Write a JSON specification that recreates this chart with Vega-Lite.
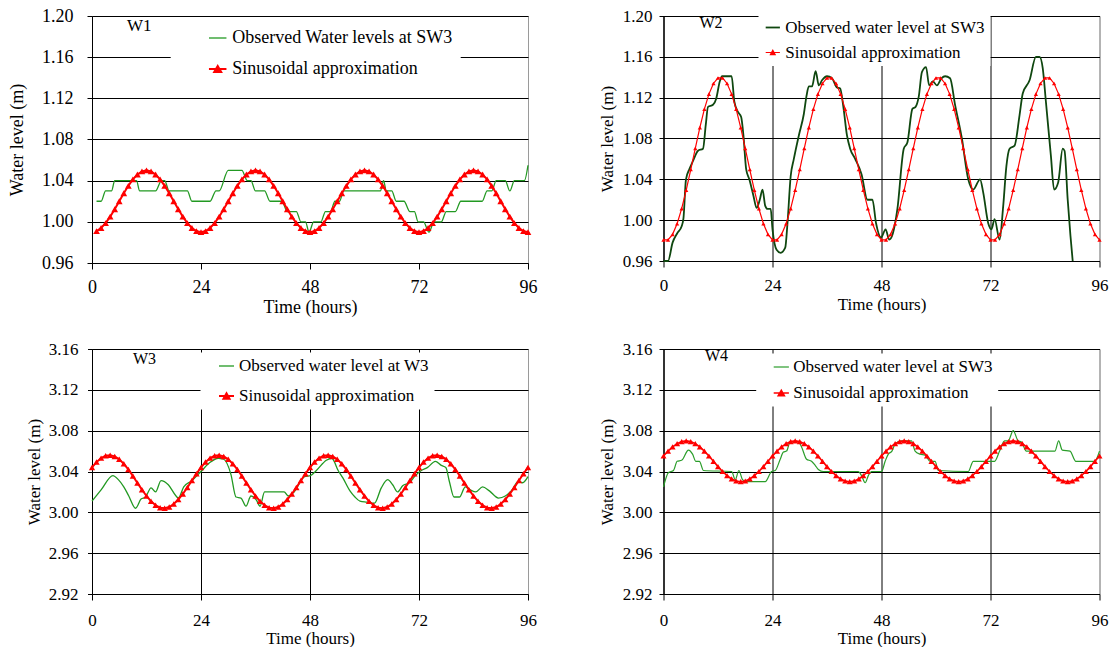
{
"$schema": "https://vega.github.io/schema/vega-lite/v6.json",
"padding": {"left": 8, "top": 6, "right": 0, "bottom": 0},
"background": "white",
"columns": 2,
"spacing": {"row": 86, "column": 135.5},
"bounds": "flush",
"resolve": {"scale": {"color": "independent", "x": "independent", "y": "independent"}, "legend": {"color": "independent"}},
"config": {
 "font": "Liberation Serif",
 "view": {"stroke": "#9a9a9a", "strokeWidth": 1},
 "axis": {"labelColor": "#000", "titleColor": "#000", "titleFontWeight": "normal", "domainColor": "#000", "tickColor": "#000", "gridColor": "#000", "gridOpacity": 1, "labelFont": "Liberation Serif", "titleFont": "Liberation Serif", "labelFlush": false, "labelOverlap": false},
 "legend": {"labelFont": "Liberation Serif", "labelColor": "#000"},
 "title": {"font": "Liberation Serif", "fontWeight": "normal", "color": "#000"}
},
"datasets": {
 "w1o": [{"t":1,"v":1.02},{"t":2,"v":1.02},{"t":3,"v":1.03},{"t":4.3,"v":1.03},{"t":5,"v":1.04},{"t":9.8,"v":1.04},{"t":10.5,"v":1.03},{"t":14,"v":1.03},{"t":15.3,"v":1.04},{"t":16,"v":1.04},{"t":17,"v":1.03},{"t":21,"v":1.03},{"t":22,"v":1.02},{"t":26,"v":1.02},{"t":27.3,"v":1.03},{"t":28,"v":1.03},{"t":30,"v":1.05},{"t":33,"v":1.05},{"t":34.2,"v":1.04},{"t":35,"v":1.04},{"t":36,"v":1.03},{"t":38,"v":1.03},{"t":39.2,"v":1.02},{"t":41.8,"v":1.02},{"t":43,"v":1.01},{"t":45,"v":1.01},{"t":46,"v":1.0},{"t":47,"v":1.0},{"t":47.8,"v":0.99},{"t":48.8,"v":1.0},{"t":50.4,"v":1.0},{"t":51.4,"v":1.01},{"t":52.5,"v":1.01},{"t":53.5,"v":1.02},{"t":54.5,"v":1.02},{"t":55.4,"v":1.03},{"t":63.5,"v":1.03},{"t":64.2,"v":1.04},{"t":64.8,"v":1.03},{"t":66,"v":1.03},{"t":67,"v":1.02},{"t":68.7,"v":1.02},{"t":70,"v":1.01},{"t":71,"v":1.01},{"t":71.8,"v":1.0},{"t":73,"v":1.0},{"t":74.2,"v":0.99},{"t":75.3,"v":1.0},{"t":76.9,"v":1.0},{"t":78,"v":1.01},{"t":80,"v":1.01},{"t":81.2,"v":1.02},{"t":85.9,"v":1.02},{"t":87,"v":1.03},{"t":88,"v":1.03},{"t":89,"v":1.04},{"t":91,"v":1.04},{"t":92,"v":1.03},{"t":93,"v":1.04},{"t":95.2,"v":1.04},{"t":96,"v":1.055}],
 "w1s": [{"t":1,"v":0.991},{"t":2,"v":0.994},{"t":3,"v":0.9988},{"t":4,"v":1.005},{"t":5,"v":1.0122},{"t":6,"v":1.02},{"t":7,"v":1.0278},{"t":8,"v":1.035},{"t":9,"v":1.0412},{"t":10,"v":1.046},{"t":11,"v":1.049},{"t":12,"v":1.05},{"t":13,"v":1.049},{"t":14,"v":1.046},{"t":15,"v":1.0412},{"t":16,"v":1.035},{"t":17,"v":1.0278},{"t":18,"v":1.02},{"t":19,"v":1.0122},{"t":20,"v":1.005},{"t":21,"v":0.9988},{"t":22,"v":0.994},{"t":23,"v":0.991},{"t":24,"v":0.99},
  {"t":25,"v":0.991},{"t":26,"v":0.994},{"t":27,"v":0.9988},{"t":28,"v":1.005},{"t":29,"v":1.0122},{"t":30,"v":1.02},{"t":31,"v":1.0278},{"t":32,"v":1.035},{"t":33,"v":1.0412},{"t":34,"v":1.046},{"t":35,"v":1.049},{"t":36,"v":1.05},{"t":37,"v":1.049},{"t":38,"v":1.046},{"t":39,"v":1.0412},{"t":40,"v":1.035},{"t":41,"v":1.0278},{"t":42,"v":1.02},{"t":43,"v":1.0122},{"t":44,"v":1.005},{"t":45,"v":0.9988},{"t":46,"v":0.994},{"t":47,"v":0.991},{"t":48,"v":0.99},
  {"t":49,"v":0.991},{"t":50,"v":0.994},{"t":51,"v":0.9988},{"t":52,"v":1.005},{"t":53,"v":1.0122},{"t":54,"v":1.02},{"t":55,"v":1.0278},{"t":56,"v":1.035},{"t":57,"v":1.0412},{"t":58,"v":1.046},{"t":59,"v":1.049},{"t":60,"v":1.05},{"t":61,"v":1.049},{"t":62,"v":1.046},{"t":63,"v":1.0412},{"t":64,"v":1.035},{"t":65,"v":1.0278},{"t":66,"v":1.02},{"t":67,"v":1.0122},{"t":68,"v":1.005},{"t":69,"v":0.9988},{"t":70,"v":0.994},{"t":71,"v":0.991},{"t":72,"v":0.99},
  {"t":73,"v":0.991},{"t":74,"v":0.994},{"t":75,"v":0.9988},{"t":76,"v":1.005},{"t":77,"v":1.0122},{"t":78,"v":1.02},{"t":79,"v":1.0278},{"t":80,"v":1.035},{"t":81,"v":1.0412},{"t":82,"v":1.046},{"t":83,"v":1.049},{"t":84,"v":1.05},{"t":85,"v":1.049},{"t":86,"v":1.046},{"t":87,"v":1.0412},{"t":88,"v":1.035},{"t":89,"v":1.0278},{"t":90,"v":1.02},{"t":91,"v":1.0122},{"t":92,"v":1.005},{"t":93,"v":0.9988},{"t":94,"v":0.994},{"t":95,"v":0.991},{"t":96,"v":0.99}],
 "w2o": [{"t":0,"v":0.96},{"t":1,"v":0.96},{"t":2,"v":0.978},{"t":3,"v":0.987},{"t":4,"v":0.994},{"t":4.4,"v":1.002},{"t":4.95,"v":1.04},{"t":5.7,"v":1.05},{"t":6.5,"v":1.058},{"t":7.6,"v":1.068},{"t":8.7,"v":1.07},{"t":9.3,"v":1.093},{"t":9.8,"v":1.111},{"t":10.9,"v":1.113},{"t":11.6,"v":1.119},{"t":12.4,"v":1.136},{"t":12.9,"v":1.141},{"t":15,"v":1.141},{"t":15.6,"v":1.116},{"t":16.4,"v":1.106},{"t":17.1,"v":1.101},{"t":17.6,"v":1.083},{"t":18.2,"v":1.05},{"t":18.9,"v":1.04},{"t":19.8,"v":1.024},{"t":20.5,"v":1.012},{"t":21.2,"v":1.02},{"t":21.8,"v":1.03},{"t":22.4,"v":1.014},{"t":22.9,"v":1.011},{"t":23.6,"v":1.011},{"t":24,"v":0.991},{"t":24.9,"v":0.971},{"t":25.8,"v":0.968},{"t":26.8,"v":0.973},{"t":27.3,"v":0.997},{"t":28,"v":1.043},{"t":28.7,"v":1.06},{"t":29.8,"v":1.083},{"t":30.9,"v":1.104},{"t":31.5,"v":1.122},{"t":32,"v":1.131},{"t":32.7,"v":1.131},{"t":33.5,"v":1.146},{"t":34.2,"v":1.132},{"t":34.9,"v":1.137},{"t":36,"v":1.141},{"t":37.1,"v":1.139},{"t":38.2,"v":1.13},{"t":38.9,"v":1.129},{"t":39.6,"v":1.111},{"t":40.4,"v":1.083},{"t":41.1,"v":1.07},{"t":42.2,"v":1.06},{"t":43.6,"v":1.045},{"t":44.9,"v":1.02},{"t":46,"v":1.02},{"t":46.8,"v":0.997},{"t":47.9,"v":0.983},{"t":48.9,"v":0.991},{"t":49.7,"v":0.981},{"t":50.5,"v":0.987},{"t":51.5,"v":1.011},{"t":52.9,"v":1.07},{"t":53.7,"v":1.076},{"t":54.8,"v":1.109},{"t":55.5,"v":1.111},{"t":56.2,"v":1.121},{"t":56.9,"v":1.145},{"t":57.8,"v":1.15},{"t":58.5,"v":1.132},{"t":59.3,"v":1.136},{"t":60.2,"v":1.132},{"t":61.2,"v":1.139},{"t":62,"v":1.141},{"t":63.1,"v":1.139},{"t":64.2,"v":1.113},{"t":65.7,"v":1.08},{"t":67.1,"v":1.04},{"t":68.2,"v":1.03},{"t":69.7,"v":1.04},{"t":70.4,"v":1.027},{"t":71.5,"v":0.997},{"t":72.2,"v":0.991},{"t":72.9,"v":1.001},{"t":74,"v":0.981},{"t":74.8,"v":1.014},{"t":75.5,"v":1.053},{"t":76.2,"v":1.07},{"t":77.3,"v":1.073},{"t":78.4,"v":1.103},{"t":79.1,"v":1.124},{"t":80.6,"v":1.137},{"t":82,"v":1.16},{"t":82.8,"v":1.16},{"t":83.5,"v":1.149},{"t":84.2,"v":1.116},{"t":85.3,"v":1.063},{"t":86,"v":1.03},{"t":86.9,"v":1.037},{"t":87.9,"v":1.07},{"t":88.3,"v":1.068},{"t":89,"v":1.02},{"t":89.6,"v":0.985},{"t":90.1,"v":0.96}],
 "w2s": [{"t":0,"v":0.9807},{"t":1,"v":0.9807},{"t":2,"v":0.9861},{"t":3,"v":0.9965},{"t":4,"v":1.0113},{"t":5,"v":1.0294},{"t":6,"v":1.0496},{"t":7,"v":1.0704},{"t":8,"v":1.0906},{"t":9,"v":1.1087},{"t":10,"v":1.1235},{"t":11,"v":1.1339},{"t":12,"v":1.1393},{"t":13,"v":1.1393},{"t":14,"v":1.1339},{"t":15,"v":1.1235},{"t":16,"v":1.1087},{"t":17,"v":1.0906},{"t":18,"v":1.0704},{"t":19,"v":1.0496},{"t":20,"v":1.0294},{"t":21,"v":1.0113},{"t":22,"v":0.9965},{"t":23,"v":0.9861},
  {"t":24,"v":0.9807},{"t":25,"v":0.9807},{"t":26,"v":0.9861},{"t":27,"v":0.9965},{"t":28,"v":1.0113},{"t":29,"v":1.0294},{"t":30,"v":1.0496},{"t":31,"v":1.0704},{"t":32,"v":1.0906},{"t":33,"v":1.1087},{"t":34,"v":1.1235},{"t":35,"v":1.1339},{"t":36,"v":1.1393},{"t":37,"v":1.1393},{"t":38,"v":1.1339},{"t":39,"v":1.1235},{"t":40,"v":1.1087},{"t":41,"v":1.0906},{"t":42,"v":1.0704},{"t":43,"v":1.0496},{"t":44,"v":1.0294},{"t":45,"v":1.0113},{"t":46,"v":0.9965},{"t":47,"v":0.9861},
  {"t":48,"v":0.9807},{"t":49,"v":0.9807},{"t":50,"v":0.9861},{"t":51,"v":0.9965},{"t":52,"v":1.0113},{"t":53,"v":1.0294},{"t":54,"v":1.0496},{"t":55,"v":1.0704},{"t":56,"v":1.0906},{"t":57,"v":1.1087},{"t":58,"v":1.1235},{"t":59,"v":1.1339},{"t":60,"v":1.1393},{"t":61,"v":1.1393},{"t":62,"v":1.1339},{"t":63,"v":1.1235},{"t":64,"v":1.1087},{"t":65,"v":1.0906},{"t":66,"v":1.0704},{"t":67,"v":1.0496},{"t":68,"v":1.0294},{"t":69,"v":1.0113},{"t":70,"v":0.9965},{"t":71,"v":0.9861},
  {"t":72,"v":0.9807},{"t":73,"v":0.9807},{"t":74,"v":0.9861},{"t":75,"v":0.9965},{"t":76,"v":1.0113},{"t":77,"v":1.0294},{"t":78,"v":1.0496},{"t":79,"v":1.0704},{"t":80,"v":1.0906},{"t":81,"v":1.1087},{"t":82,"v":1.1235},{"t":83,"v":1.1339},{"t":84,"v":1.1393},{"t":85,"v":1.1393},{"t":86,"v":1.1339},{"t":87,"v":1.1235},{"t":88,"v":1.1087},{"t":89,"v":1.0906},{"t":90,"v":1.0704},{"t":91,"v":1.0496},{"t":92,"v":1.0294},{"t":93,"v":1.0113},{"t":94,"v":0.9965},{"t":95,"v":0.9861},{"t":96,"v":0.9807}],
 "w3o": [{"t":0,"v":3.011},{"t":2,"v":3.022},{"t":4.6,"v":3.036},{"t":5.8,"v":3.032},{"t":7,"v":3.025},{"t":8.1,"v":3.016},{"t":9.6,"v":3.004},{"t":10.8,"v":3.013},{"t":11.8,"v":3.015},{"t":13,"v":3.024},{"t":14,"v":3.02},{"t":15.2,"v":3.031},{"t":16.8,"v":3.027},{"t":18.5,"v":3.016},{"t":19,"v":3.014},{"t":20.2,"v":3.025},{"t":22,"v":3.031},{"t":24,"v":3.04},{"t":26,"v":3.049},{"t":27.8,"v":3.053},{"t":29,"v":3.052},{"t":30.6,"v":3.037},{"t":31.7,"v":3.015},{"t":32.8,"v":3.014},{"t":33.9,"v":3.006},{"t":35,"v":3.016},{"t":36.2,"v":3.012},{"t":37,"v":3.006},{"t":38,"v":3.02},{"t":42.3,"v":3.02},{"t":43.2,"v":3.016},{"t":44.5,"v":3.02},{"t":46.8,"v":3.035},{"t":48.1,"v":3.036},{"t":49.4,"v":3.041},{"t":51.6,"v":3.051},{"t":52.8,"v":3.053},{"t":54.2,"v":3.041},{"t":55.2,"v":3.034},{"t":56.8,"v":3.021},{"t":57.9,"v":3.015},{"t":59,"v":3.011},{"t":60.5,"v":3.01},{"t":62.2,"v":3.009},{"t":63.7,"v":3.024},{"t":65.1,"v":3.032},{"t":66.2,"v":3.027},{"t":67.3,"v":3.02},{"t":68.4,"v":3.026},{"t":69.9,"v":3.029},{"t":71.2,"v":3.036},{"t":72.5,"v":3.041},{"t":73.9,"v":3.044},{"t":75.6,"v":3.05},{"t":76.9,"v":3.046},{"t":77.9,"v":3.044},{"t":78.7,"v":3.03},{"t":79.7,"v":3.015},{"t":80.9,"v":3.015},{"t":82.2,"v":3.025},{"t":83.3,"v":3.022},{"t":84.5,"v":3.02},{"t":86,"v":3.025},{"t":87.5,"v":3.021},{"t":89.5,"v":3.014},{"t":91,"v":3.016},{"t":92.5,"v":3.022},{"t":93.8,"v":3.03},{"t":94.8,"v":3.029},{"t":96,"v":3.035}],
 "w3s": [{"t":0,"v":3.044},{"t":1,"v":3.0492},{"t":2,"v":3.0531},{"t":3,"v":3.0554},{"t":4,"v":3.056},{"t":5,"v":3.0548},{"t":6,"v":3.0519},{"t":7,"v":3.0475},{"t":8,"v":3.042},{"t":9,"v":3.0356},{"t":10,"v":3.0288},{"t":11,"v":3.0222},{"t":12,"v":3.016},{"t":13,"v":3.0108},{"t":14,"v":3.0069},{"t":15,"v":3.0046},{"t":16,"v":3.004},{"t":17,"v":3.0052},{"t":18,"v":3.0081},{"t":19,"v":3.0125},{"t":20,"v":3.018},{"t":21,"v":3.0244},{"t":22,"v":3.0312},{"t":23,"v":3.0378},
  {"t":24,"v":3.044},{"t":25,"v":3.0492},{"t":26,"v":3.0531},{"t":27,"v":3.0554},{"t":28,"v":3.056},{"t":29,"v":3.0548},{"t":30,"v":3.0519},{"t":31,"v":3.0475},{"t":32,"v":3.042},{"t":33,"v":3.0356},{"t":34,"v":3.0288},{"t":35,"v":3.0222},{"t":36,"v":3.016},{"t":37,"v":3.0108},{"t":38,"v":3.0069},{"t":39,"v":3.0046},{"t":40,"v":3.004},{"t":41,"v":3.0052},{"t":42,"v":3.0081},{"t":43,"v":3.0125},{"t":44,"v":3.018},{"t":45,"v":3.0244},{"t":46,"v":3.0312},{"t":47,"v":3.0378},
  {"t":48,"v":3.044},{"t":49,"v":3.0492},{"t":50,"v":3.0531},{"t":51,"v":3.0554},{"t":52,"v":3.056},{"t":53,"v":3.0548},{"t":54,"v":3.0519},{"t":55,"v":3.0475},{"t":56,"v":3.042},{"t":57,"v":3.0356},{"t":58,"v":3.0288},{"t":59,"v":3.0222},{"t":60,"v":3.016},{"t":61,"v":3.0108},{"t":62,"v":3.0069},{"t":63,"v":3.0046},{"t":64,"v":3.004},{"t":65,"v":3.0052},{"t":66,"v":3.0081},{"t":67,"v":3.0125},{"t":68,"v":3.018},{"t":69,"v":3.0244},{"t":70,"v":3.0312},{"t":71,"v":3.0378},
  {"t":72,"v":3.044},{"t":73,"v":3.0492},{"t":74,"v":3.0531},{"t":75,"v":3.0554},{"t":76,"v":3.056},{"t":77,"v":3.0548},{"t":78,"v":3.0519},{"t":79,"v":3.0475},{"t":80,"v":3.042},{"t":81,"v":3.0356},{"t":82,"v":3.0288},{"t":83,"v":3.0222},{"t":84,"v":3.016},{"t":85,"v":3.0108},{"t":86,"v":3.0069},{"t":87,"v":3.0046},{"t":88,"v":3.004},{"t":89,"v":3.0052},{"t":90,"v":3.0081},{"t":91,"v":3.0125},{"t":92,"v":3.018},{"t":93,"v":3.0244},{"t":94,"v":3.0312},{"t":95,"v":3.0378},{"t":96,"v":3.044}],
 "w4o": [{"t":0,"v":3.025},{"t":1.1,"v":3.039},{"t":2.2,"v":3.041},{"t":3,"v":3.05},{"t":4,"v":3.051},{"t":5.5,"v":3.061},{"t":6.4,"v":3.057},{"t":7.1,"v":3.05},{"t":7.9,"v":3.05},{"t":8.8,"v":3.041},{"t":15,"v":3.04},{"t":15.8,"v":3.032},{"t":16.6,"v":3.041},{"t":17.4,"v":3.032},{"t":18.3,"v":3.03},{"t":22.4,"v":3.03},{"t":23.8,"v":3.04},{"t":24.6,"v":3.041},{"t":25.7,"v":3.052},{"t":26.4,"v":3.059},{"t":27.1,"v":3.06},{"t":27.9,"v":3.069},{"t":29.7,"v":3.069},{"t":30.4,"v":3.064},{"t":31.5,"v":3.052},{"t":32.6,"v":3.05},{"t":33.4,"v":3.046},{"t":34.1,"v":3.042},{"t":35.2,"v":3.04},{"t":42.9,"v":3.04},{"t":43.6,"v":3.036},{"t":44.4,"v":3.029},{"t":45.1,"v":3.036},{"t":45.8,"v":3.04},{"t":48,"v":3.04},{"t":48.8,"v":3.05},{"t":49.5,"v":3.057},{"t":50.3,"v":3.06},{"t":51,"v":3.067},{"t":52.4,"v":3.07},{"t":54.6,"v":3.07},{"t":55.4,"v":3.06},{"t":56.5,"v":3.057},{"t":57.6,"v":3.056},{"t":58.7,"v":3.05},{"t":59.8,"v":3.05},{"t":60.5,"v":3.041},{"t":67.1,"v":3.04},{"t":68.2,"v":3.05},{"t":72.9,"v":3.05},{"t":74,"v":3.06},{"t":75.1,"v":3.07},{"t":75.9,"v":3.07},{"t":77,"v":3.08},{"t":78.1,"v":3.07},{"t":78.8,"v":3.069},{"t":79.9,"v":3.06},{"t":86.2,"v":3.06},{"t":87,"v":3.07},{"t":87.8,"v":3.061},{"t":89.5,"v":3.06},{"t":90.8,"v":3.05},{"t":94.9,"v":3.05},{"t":96,"v":3.06}],
 "w4s": [{"t":0,"v":3.0552},{"t":1,"v":3.06},{"t":2,"v":3.0641},{"t":3,"v":3.0673},{"t":4,"v":3.0693},{"t":5,"v":3.07},{"t":6,"v":3.0693},{"t":7,"v":3.0673},{"t":8,"v":3.0641},{"t":9,"v":3.06},{"t":10,"v":3.0552},{"t":11,"v":3.05},{"t":12,"v":3.0448},{"t":13,"v":3.04},{"t":14,"v":3.0359},{"t":15,"v":3.0327},{"t":16,"v":3.0307},{"t":17,"v":3.03},{"t":18,"v":3.0307},{"t":19,"v":3.0327},{"t":20,"v":3.0359},{"t":21,"v":3.04},{"t":22,"v":3.0448},{"t":23,"v":3.05},
  {"t":24,"v":3.0552},{"t":25,"v":3.06},{"t":26,"v":3.0641},{"t":27,"v":3.0673},{"t":28,"v":3.0693},{"t":29,"v":3.07},{"t":30,"v":3.0693},{"t":31,"v":3.0673},{"t":32,"v":3.0641},{"t":33,"v":3.06},{"t":34,"v":3.0552},{"t":35,"v":3.05},{"t":36,"v":3.0448},{"t":37,"v":3.04},{"t":38,"v":3.0359},{"t":39,"v":3.0327},{"t":40,"v":3.0307},{"t":41,"v":3.03},{"t":42,"v":3.0307},{"t":43,"v":3.0327},{"t":44,"v":3.0359},{"t":45,"v":3.04},{"t":46,"v":3.0448},{"t":47,"v":3.05},
  {"t":48,"v":3.0552},{"t":49,"v":3.06},{"t":50,"v":3.0641},{"t":51,"v":3.0673},{"t":52,"v":3.0693},{"t":53,"v":3.07},{"t":54,"v":3.0693},{"t":55,"v":3.0673},{"t":56,"v":3.0641},{"t":57,"v":3.06},{"t":58,"v":3.0552},{"t":59,"v":3.05},{"t":60,"v":3.0448},{"t":61,"v":3.04},{"t":62,"v":3.0359},{"t":63,"v":3.0327},{"t":64,"v":3.0307},{"t":65,"v":3.03},{"t":66,"v":3.0307},{"t":67,"v":3.0327},{"t":68,"v":3.0359},{"t":69,"v":3.04},{"t":70,"v":3.0448},{"t":71,"v":3.05},
  {"t":72,"v":3.0552},{"t":73,"v":3.06},{"t":74,"v":3.0641},{"t":75,"v":3.0673},{"t":76,"v":3.0693},{"t":77,"v":3.07},{"t":78,"v":3.0693},{"t":79,"v":3.0673},{"t":80,"v":3.0641},{"t":81,"v":3.06},{"t":82,"v":3.0552},{"t":83,"v":3.05},{"t":84,"v":3.0448},{"t":85,"v":3.04},{"t":86,"v":3.0359},{"t":87,"v":3.0327},{"t":88,"v":3.0307},{"t":89,"v":3.03},{"t":90,"v":3.0307},{"t":91,"v":3.0327},{"t":92,"v":3.0359},{"t":93,"v":3.04},{"t":94,"v":3.0448},{"t":95,"v":3.05},{"t":96,"v":3.0552}]
},
"concat": [
 {
  "width": 436, "height": 247,
  "title": {"text": "W1", "anchor": "start", "frame": "group", "dx": 35, "offset": -36, "fontSize": 17, "baseline": "middle"},
  "encoding": {
   "x": {"field": "t", "type": "quantitative", "scale": {"domain": [0, 96], "nice": false}, "axis": {"values": [0, 24, 48, 72, 96], "grid": false, "title": "Time (hours)", "labelFontSize": 18, "titleFontSize": 18, "tickSize": 6, "labelPadding": 9, "titlePadding": 2}},
   "y": {"field": "v", "type": "quantitative", "scale": {"domain": [0.96, 1.2], "nice": false, "zero": false}, "axis": {"values": [0.96, 1.0, 1.04, 1.08, 1.12, 1.16, 1.2], "format": ".2f", "title": "Water level (m)", "labelFontSize": 18, "titleFontSize": 18, "tickSize": 5, "labelPadding": 14, "titlePadding": 15}}
  },
  "layer": [
   {"data": {"name": "w1o"}, "mark": {"type": "line", "interpolate": "monotone", "strokeWidth": 1.3},
    "encoding": {"color": {"datum": "Observed Water levels at SW3", "type": "nominal",
      "scale": {"domain": ["Observed Water levels at SW3", "Sinusoidal approximation"], "range": ["#229922", "#ff0000"]},
      "legend": {"title": null, "orient": "none", "legendX": 78.7, "legendY": 5, "fillColor": "white", "padding": 8, "symbolOffset": 30, "labelOffset": 5.5, "rowPadding": 13, "labelFontSize": 18, "labelLimit": 500, "symbolSize": 306,
       "labelExpr": "datum.label + '      '",
       "encode": {"symbols": {"update": {
         "shape": {"signal": "datum.value == 'Sinusoidal approximation' ? 'M-1,0H1M-0.4,0.35L0,-0.35L0.4,0.35Z' : 'M-1,0H1'"},
         "stroke": {"signal": "datum.value == 'Sinusoidal approximation' ? '#ff0000' : '#229922'"},
         "fill": {"signal": "datum.value == 'Sinusoidal approximation' ? '#ff0000' : 'transparent'"},
         "strokeWidth": {"signal": "datum.value == 'Sinusoidal approximation' ? 2 : 1.3"},
         "opacity": {"value": 1}}}}}}}},
   {"data": {"name": "w1s"}, "mark": {"type": "line", "strokeWidth": 2}, "encoding": {"color": {"datum": "Sinusoidal approximation", "type": "nominal"}}},
   {"data": {"name": "w1s"}, "mark": {"type": "point", "shape": "triangle-up", "filled": true, "size": 45, "opacity": 1}, "encoding": {"color": {"datum": "Sinusoidal approximation", "type": "nominal"}}}
  ]
 },
 {
  "width": 436, "height": 245,
  "title": {"text": "W2", "anchor": "start", "frame": "group", "dx": 36, "offset": -32, "fontSize": 16, "baseline": "middle"},
  "encoding": {
   "x": {"field": "t", "type": "quantitative", "scale": {"domain": [0, 96], "nice": false}, "axis": {"values": [0, 24, 48, 72, 96], "grid": true, "gridColor": {"condition": {"test": "datum.value === 96", "value": "#9a9a9a"}, "value": "#000"}, "title": "Time (hours)", "labelFontSize": 17, "titleFontSize": 17, "tickSize": 6, "labelPadding": 10, "titlePadding": 3}},
   "y": {"field": "v", "type": "quantitative", "scale": {"domain": [0.96, 1.2], "nice": false, "zero": false}, "axis": {"values": [0.96, 1.0, 1.04, 1.08, 1.12, 1.16, 1.2], "format": ".2f", "title": "Water level (m)", "labelFontSize": 17, "titleFontSize": 17, "tickSize": 4.5, "labelPadding": 7, "titlePadding": 6}}
  },
  "layer": [
   {"data": {"name": "w2o"}, "mark": {"type": "line", "interpolate": "monotone", "strokeWidth": 1.8},
    "encoding": {"color": {"datum": "Observed water level at SW3", "type": "nominal",
      "scale": {"domain": ["Observed water level at SW3", "Sinusoidal approximation"], "range": ["#0f470f", "#ff0000"]},
      "legend": {"title": null, "orient": "none", "legendX": 95, "legendY": -2, "fillColor": "white", "padding": 5, "symbolOffset": 0.8, "labelOffset": 4, "rowPadding": 7, "labelFontSize": 17, "labelLimit": 500, "symbolSize": 202,
       "encode": {"symbols": {"update": {
         "shape": {"signal": "datum.value == 'Sinusoidal approximation' ? 'M-1,0H1M-0.33,0.3L0,-0.3L0.33,0.3Z' : 'M-1,0H1'"},
         "stroke": {"signal": "datum.value == 'Sinusoidal approximation' ? '#ff0000' : '#0f470f'"},
         "fill": {"signal": "datum.value == 'Sinusoidal approximation' ? '#ff0000' : 'transparent'"},
         "strokeWidth": {"signal": "datum.value == 'Sinusoidal approximation' ? 1.2 : 1.8"},
         "opacity": {"value": 1}}}}}}}},
   {"data": {"name": "w2s"}, "mark": {"type": "line", "strokeWidth": 1.2}, "encoding": {"color": {"datum": "Sinusoidal approximation", "type": "nominal"}}},
   {"data": {"name": "w2s"}, "mark": {"type": "point", "shape": "triangle-up", "filled": true, "size": 18, "opacity": 1}, "encoding": {"color": {"datum": "Sinusoidal approximation", "type": "nominal"}}}
  ]
 },
 {
  "width": 436, "height": 245,
  "title": {"text": "W3", "anchor": "start", "frame": "group", "dx": 41, "offset": -35, "fontSize": 16, "baseline": "middle"},
  "encoding": {
   "x": {"field": "t", "type": "quantitative", "scale": {"domain": [0, 96], "nice": false}, "axis": {"values": [0, 24, 48, 72, 96], "grid": true, "gridColor": {"condition": {"test": "datum.value === 96", "value": "#9a9a9a"}, "value": "#000"}, "title": "Time (hours)", "labelFontSize": 17, "titleFontSize": 17, "tickSize": 6, "labelPadding": 12, "titlePadding": 2}},
   "y": {"field": "v", "type": "quantitative", "scale": {"domain": [2.92, 3.16], "nice": false, "zero": false}, "axis": {"values": [2.92, 2.96, 3.0, 3.04, 3.08, 3.12, 3.16], "format": ".2f", "title": "Water level (m)", "labelFontSize": 17, "titleFontSize": 17, "tickSize": 4.5, "labelPadding": 9.6, "titlePadding": 5}}
  },
  "layer": [
   {"data": {"name": "w3o"}, "mark": {"type": "line", "interpolate": "monotone", "strokeWidth": 1.3},
    "encoding": {"color": {"datum": "Observed water level at W3", "type": "nominal",
      "scale": {"domain": ["Observed water level at W3", "Sinusoidal approximation"], "range": ["#229922", "#ff0000"]},
      "legend": {"title": null, "orient": "none", "legendX": 108.5, "legendY": 3.5, "fillColor": "white", "padding": 5, "symbolOffset": 12.5, "labelOffset": 4, "rowPadding": 12, "labelFontSize": 17, "labelLimit": 500, "symbolSize": 225,
       "labelExpr": "datum.label + '  '",
       "encode": {"symbols": {"update": {
         "shape": {"signal": "datum.value == 'Sinusoidal approximation' ? 'M-1,0H1M-0.4,0.35L0,-0.35L0.4,0.35Z' : 'M-1,0H1'"},
         "stroke": {"signal": "datum.value == 'Sinusoidal approximation' ? '#ff0000' : '#229922'"},
         "fill": {"signal": "datum.value == 'Sinusoidal approximation' ? '#ff0000' : 'transparent'"},
         "strokeWidth": {"signal": "datum.value == 'Sinusoidal approximation' ? 2 : 1.3"},
         "opacity": {"value": 1}}}}}}}},
   {"data": {"name": "w3s"}, "mark": {"type": "line", "strokeWidth": 2}, "encoding": {"color": {"datum": "Sinusoidal approximation", "type": "nominal"}}},
   {"data": {"name": "w3s"}, "mark": {"type": "point", "shape": "triangle-up", "filled": true, "size": 40, "opacity": 1}, "encoding": {"color": {"datum": "Sinusoidal approximation", "type": "nominal"}}}
  ]
 },
 {
  "width": 436, "height": 245,
  "title": {"text": "W4", "anchor": "start", "frame": "group", "dx": 41.5, "offset": -32, "fontSize": 16, "baseline": "middle"},
  "encoding": {
   "x": {"field": "t", "type": "quantitative", "scale": {"domain": [0, 96], "nice": false}, "axis": {"values": [0, 24, 48, 72, 96], "grid": true, "gridColor": {"condition": {"test": "datum.value === 96", "value": "#9a9a9a"}, "value": "#000"}, "title": "Time (hours)", "labelFontSize": 17, "titleFontSize": 17, "tickSize": 6, "labelPadding": 12, "titlePadding": 2}},
   "y": {"field": "v", "type": "quantitative", "scale": {"domain": [2.92, 3.16], "nice": false, "zero": false}, "axis": {"values": [2.92, 2.96, 3.0, 3.04, 3.08, 3.12, 3.16], "format": ".2f", "title": "Water level (m)", "labelFontSize": 17, "titleFontSize": 17, "tickSize": 4.5, "labelPadding": 7, "titlePadding": 6}}
  },
  "layer": [
   {"data": {"name": "w4o"}, "mark": {"type": "line", "interpolate": "monotone", "strokeWidth": 1.2},
    "encoding": {"color": {"datum": "Observed water level at SW3", "type": "nominal",
      "scale": {"domain": ["Observed water level at SW3", "Sinusoidal approximation"], "range": ["#2a9d2a", "#ff0000"]},
      "legend": {"title": null, "orient": "none", "legendX": 92.7, "legendY": 4.5, "fillColor": "white", "padding": 5, "symbolOffset": 11.6, "labelOffset": 3.5, "rowPadding": 8, "labelFontSize": 17, "labelLimit": 500, "symbolSize": 231,
       "labelExpr": "datum.label + '  '",
       "encode": {"symbols": {"update": {
         "shape": {"signal": "datum.value == 'Sinusoidal approximation' ? 'M-1,0H1M-0.4,0.35L0,-0.35L0.4,0.35Z' : 'M-1,0H1'"},
         "stroke": {"signal": "datum.value == 'Sinusoidal approximation' ? '#ff0000' : '#2a9d2a'"},
         "fill": {"signal": "datum.value == 'Sinusoidal approximation' ? '#ff0000' : 'transparent'"},
         "strokeWidth": {"signal": "datum.value == 'Sinusoidal approximation' ? 1.6 : 1.2"},
         "opacity": {"value": 1}}}}}}}},
   {"data": {"name": "w4s"}, "mark": {"type": "line", "strokeWidth": 1.6}, "encoding": {"color": {"datum": "Sinusoidal approximation", "type": "nominal"}}},
   {"data": {"name": "w4s"}, "mark": {"type": "point", "shape": "triangle-up", "filled": true, "size": 36, "opacity": 1}, "encoding": {"color": {"datum": "Sinusoidal approximation", "type": "nominal"}}}
  ]
 }
]
}
